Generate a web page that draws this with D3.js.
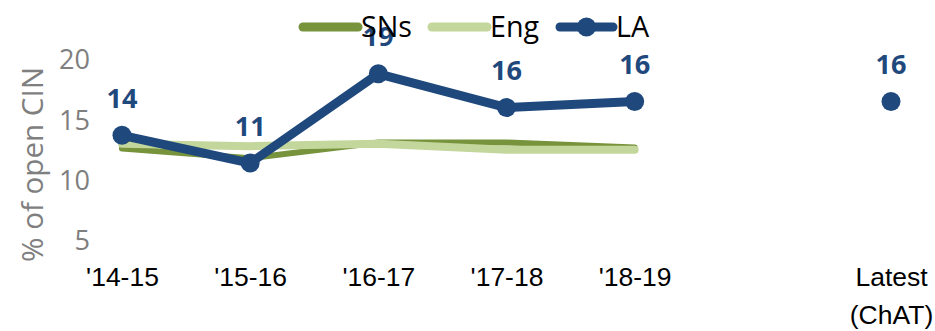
<!DOCTYPE html>
<html><head><meta charset="utf-8">
<script src="https://cdn.jsdelivr.net/npm/d3@7"></script>
<style>
html,body{margin:0;padding:0;background:#fff;}
svg{display:block;font-family:"Open Sans",sans-serif;}
</style></head>
<body>
<svg id="chart" width="935" height="331"></svg>
<script>
const categories = ["'14-15","'15-16","'16-17","'17-18","'18-19","","Latest\n(ChAT)"];
const snsValues = [12.6, 11.8, 13.1, 13.1, 12.7];
const engValues = [13.0, 12.8, 13.0, 12.5, 12.5];
const laValues = [13.7, 11.4, 18.8, 16.0, 16.5];
const laLatest = 16.5;
const laLabels = ["14","11","19","16","16"];
const laLatestLabel = "16";
const yTicks = [5, 10, 15, 20];
const seriesNames = ["SNs","Eng","LA"];

const svg = d3.select("#chart");
const x = d3.scalePoint().domain(categories).range([122, 891]);
const y = d3.scaleLinear().domain([0, 20]).range([300.6, 59.3]);

const colSNs = "#77933c", colEng = "#c3d69b", colLA = "#1f497d";

// measure helper: font size giving a target width for a sample text
function fitSize(text, target, weight){
  const t = svg.append("text").attr("font-size",100).attr("font-weight",weight||"normal").text(text);
  const w = t.node().getComputedTextLength();
  t.remove();
  return 100*target/w;
}
const fsTick = fitSize("20", 31);
const fsX = fitSize("'14-15", 75);
const fsLeg = fitSize("SNs", 51);
const fsTitle = fitSize("% of open CIN", 195);
const fsLbl = fitSize("14", 31, "bold");

// y axis
const yAxis = svg.append("g").attr("transform","translate(90,0)")
  .call(d3.axisLeft(y).tickValues(yTicks).tickSize(0).tickPadding(0));
yAxis.select(".domain").remove();
yAxis.selectAll("text").attr("font-size",fsTick).attr("fill","#7f7f7f")
  .attr("font-family","'Open Sans',sans-serif").attr("dy","0.35em");

svg.append("text").attr("transform","translate(43,164.5) rotate(-90)")
  .attr("text-anchor","middle").attr("font-size",fsTitle).attr("fill","#7f7f7f")
  .text("% of open CIN");

// x axis
const xAxis = svg.append("g").attr("transform","translate(0,277)")
  .call(d3.axisBottom(x).tickSize(0).tickPadding(0).tickFormat(""));
xAxis.select(".domain").remove();
xAxis.selectAll(".tick").each(function(d){
  const t = d3.select(this).append("text").attr("fill","#000").attr("font-size",fsX)
    .attr("text-anchor","middle").attr("y",0).attr("dy","0.35em");
  d.split("\n").forEach((s,i)=>t.append("tspan").attr("x",0).attr("dy",i===0?"0.35em":38).text(s));
});

const cats5 = categories.slice(0,5);
const line = d3.line().x((d,i)=>x(cats5[i])).y(d=>y(d));

svg.append("path").datum(snsValues).attr("d",line).attr("fill","none")
  .attr("stroke",colSNs).attr("stroke-width",6).attr("stroke-linecap","round").attr("stroke-linejoin","round");
svg.append("path").datum(engValues).attr("d",line).attr("fill","none")
  .attr("stroke",colEng).attr("stroke-width",8).attr("stroke-linecap","round").attr("stroke-linejoin","round");
svg.append("path").datum(laValues).attr("d",line).attr("fill","none")
  .attr("stroke",colLA).attr("stroke-width",9).attr("stroke-linecap","round").attr("stroke-linejoin","round");

const laPts = laValues.map((v,i)=>({x:x(cats5[i]), v, l:laLabels[i]}));
laPts.push({x:x(categories[6]), v:laLatest, l:laLatestLabel});
svg.selectAll("circle.la").data(laPts).enter().append("circle")
  .attr("cx",d=>d.x).attr("cy",d=>y(d.v)).attr("r",9.5).attr("fill",colLA);
svg.selectAll("text.lbl").data(laPts).enter().append("text")
  .attr("x",d=>d.x).attr("y",d=>y(d.v)-37).attr("dy","0.35em").attr("text-anchor","middle")
  .attr("font-size",fsLbl).attr("font-weight","bold").attr("fill",colLA).text(d=>d.l);

// legend
const legend = svg.append("g");
const leg = [
  {name:seriesNames[0], c:colSNs, x1:303, x2:358, tx:361, dot:false},
  {name:seriesNames[1], c:colEng, x1:432, x2:487, tx:490, dot:false},
  {name:seriesNames[2], c:colLA, x1:560, x2:613, tx:616, dot:true}
];
leg.forEach(d=>{
  legend.append("line").attr("x1",d.x1).attr("x2",d.x2).attr("y1",27).attr("y2",27)
    .attr("stroke",d.c).attr("stroke-width",9).attr("stroke-linecap","round");
  if(d.dot) legend.append("circle").attr("cx",(d.x1+d.x2)/2).attr("cy",27).attr("r",9.5).attr("fill",d.c);
  legend.append("text").attr("x",d.tx).attr("y",27).attr("dy","0.35em")
    .attr("font-size",fsLeg).attr("fill","#000").text(d.name);
});
</script>
</body></html>
